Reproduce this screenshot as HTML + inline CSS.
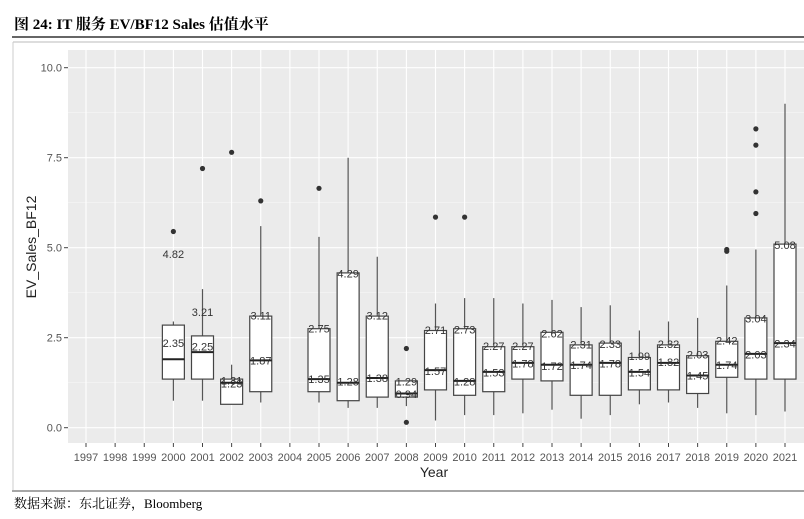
<!DOCTYPE html>
<html><head><meta charset="utf-8"><style>
body{margin:0;background:#fff;width:804px;height:514px;overflow:hidden;font-family:"Liberation Sans",sans-serif}
</style></head><body>
<svg width="804" height="514" xmlns="http://www.w3.org/2000/svg">
<text x="14" y="29" font-family="'Liberation Serif','Noto Serif CJK SC',serif" font-weight="bold" font-size="15" fill="#000">图 24:  IT 服务  EV/BF12 Sales 估值水平</text>
<line x1="12" y1="37" x2="804" y2="37" stroke="#333" stroke-width="1.5"/>
<line x1="13" y1="42" x2="804" y2="42" stroke="#bbb" stroke-width="1"/>
<line x1="13" y1="42" x2="13" y2="490" stroke="#ccc" stroke-width="1"/>
<line x1="12" y1="491" x2="804" y2="491" stroke="#888" stroke-width="1.5"/>
<text x="14" y="508" font-family="'Liberation Serif','Noto Serif CJK SC',serif" font-size="13" fill="#000">数据来源：东北证券，Bloomberg</text>
<rect x="68" y="50" width="736" height="393" fill="#ebebeb"/>
<g id="grid"></g><g id="axes"></g><g id="marks"></g>
<text x="434" y="477" text-anchor="middle" font-size="14" fill="#222">Year</text>
<text transform="translate(36,247) rotate(-90)" text-anchor="middle" font-size="14" fill="#222">EV_Sales_BF12</text>
</svg>
<script>
const years=['1997','1998','1999','2000','2001','2002','2003','2004','2005','2006','2007','2008','2009','2010','2011','2012','2013','2014','2015','2016','2017','2018','2019','2020','2021'];
const boxYears=['2000','2001','2002','2003','2005','2006','2007','2008','2009','2010','2011','2012','2013','2014','2015','2016','2017','2018','2019','2020','2021'];
const whiskerLow=[0.75,0.75,0.65,0.7,0.7,0.55,0.55,0.6,0.2,0.35,0.35,0.4,0.5,0.25,0.35,0.65,0.7,0.55,0.4,0.35,0.45];
const q1=[1.35,1.35,0.65,1.0,1.0,0.75,0.85,0.85,1.05,0.9,1.0,1.35,1.3,0.9,0.9,1.05,1.05,0.95,1.4,1.35,1.35];
const median=[1.9,2.1,1.25,1.87,1.35,1.25,1.38,0.95,1.6,1.3,1.55,1.8,1.75,1.75,1.8,1.55,1.8,1.45,1.75,2.05,2.35];
const q3=[2.85,2.55,1.35,3.1,2.75,4.3,3.1,1.3,2.7,2.75,2.25,2.25,2.65,2.3,2.35,1.95,2.3,2.0,2.4,3.05,5.1];
const whiskerHigh=[2.95,3.85,1.75,5.6,5.3,7.5,4.75,1.3,3.45,3.6,3.6,3.45,3.55,3.35,3.4,2.7,2.95,3.05,3.95,4.95,9.0];
const outliers=[[5.45],[7.2],[7.65],[6.3],[6.65],[],[],[2.2,0.15],[5.85],[5.85],[],[],[],[],[],[],[],[],[4.9,4.95],[5.95,6.55,7.85,8.3],[]];
const labelsHigh=['4.82','3.21','1.31','3.11','2.75','4.29','3.12','1.29','2.71','2.73','2.27','2.27','2.62','2.31','2.33','1.99','2.32','2.03','2.42','3.04','5.08'];
const labelsLow=['2.35','2.25','1.23','1.87','1.35','1.28','1.38','0.94','1.57','1.28','1.53','1.78','1.72','1.74','1.78','1.54','1.82','1.45','1.74','2.03','2.34'];
const yTicks=['0.0','2.5','5.0','7.5','10.0'];

const NS='http://www.w3.org/2000/svg';
function x(yr){return 86+years.indexOf(yr)*29.125;}
function y(v){return 427.7-v*36;}
function mk(tag,at,parent){const e=document.createElementNS(NS,tag);for(const k in at)e.setAttribute(k,at[k]);document.getElementById(parent).appendChild(e);return e;}
// grid
for(let i=0;i<8;i++){const v=1.25+i*2.5;if(y(v)>50){const l=mk('line',{x1:68,x2:804,y1:y(v),y2:y(v),stroke:'#f6f6f6','stroke-width':0.6},'grid');

}}
yTicks.forEach(t=>{const v=parseFloat(t);const l=mk('line',{x1:68,x2:804,y1:y(v),y2:y(v),stroke:'#fff','stroke-width':1.1},'grid');


const tk=mk('line',{x1:64,x2:68,y1:y(v),y2:y(v),stroke:'#444'},'axes');


const tx=mk('text',{x:62,y:y(v)+4,'text-anchor':'end','font-size':11,fill:'#555'},'axes');tx.textContent=t;

});
years.forEach(yr=>{const l=mk('line',{x1:x(yr),x2:x(yr),y1:50,y2:443,stroke:'#fff','stroke-width':1.1},'grid');


const tk=mk('line',{x1:x(yr),x2:x(yr),y1:443,y2:447,stroke:'#444'},'axes');


const tx=mk('text',{x:x(yr),y:461,'text-anchor':'middle','font-size':11,fill:'#555'},'axes');tx.textContent=yr;

});
// boxes
boxYears.forEach((yr,i)=>{const cx=x(yr),w=22;
const g=mk('g',{},'marks');


const a=(t,at)=>{const e=document.createElementNS(NS,t);for(const k in at)e.setAttribute(k,at[k]);g.appendChild(e);return e;};
const wl=a('line',{x1:cx,x2:cx,y1:y(whiskerLow[i]),y2:y(whiskerHigh[i]),stroke:'#555','stroke-width':1.2});


const r=a('rect',{x:cx-w/2,y:y(q3[i]),width:w,height:y(q1[i])-y(q3[i]),fill:'#fff',stroke:'#444','stroke-width':1.2});


const m=a('line',{x1:cx-w/2,x2:cx+w/2,y1:y(median[i]),y2:y(median[i]),stroke:'#222','stroke-width':2});


outliers[i].forEach(v=>{const c=a('circle',{cx:cx,cy:y(v),r:2.6,fill:'#333'});

});
[labelsHigh[i],labelsLow[i]].forEach(t=>{const tx=a('text',{x:cx,y:y(parseFloat(t))+4,'text-anchor':'middle','font-size':11,fill:'#333'});tx.textContent=t;

});
});
</script>
</body></html>
